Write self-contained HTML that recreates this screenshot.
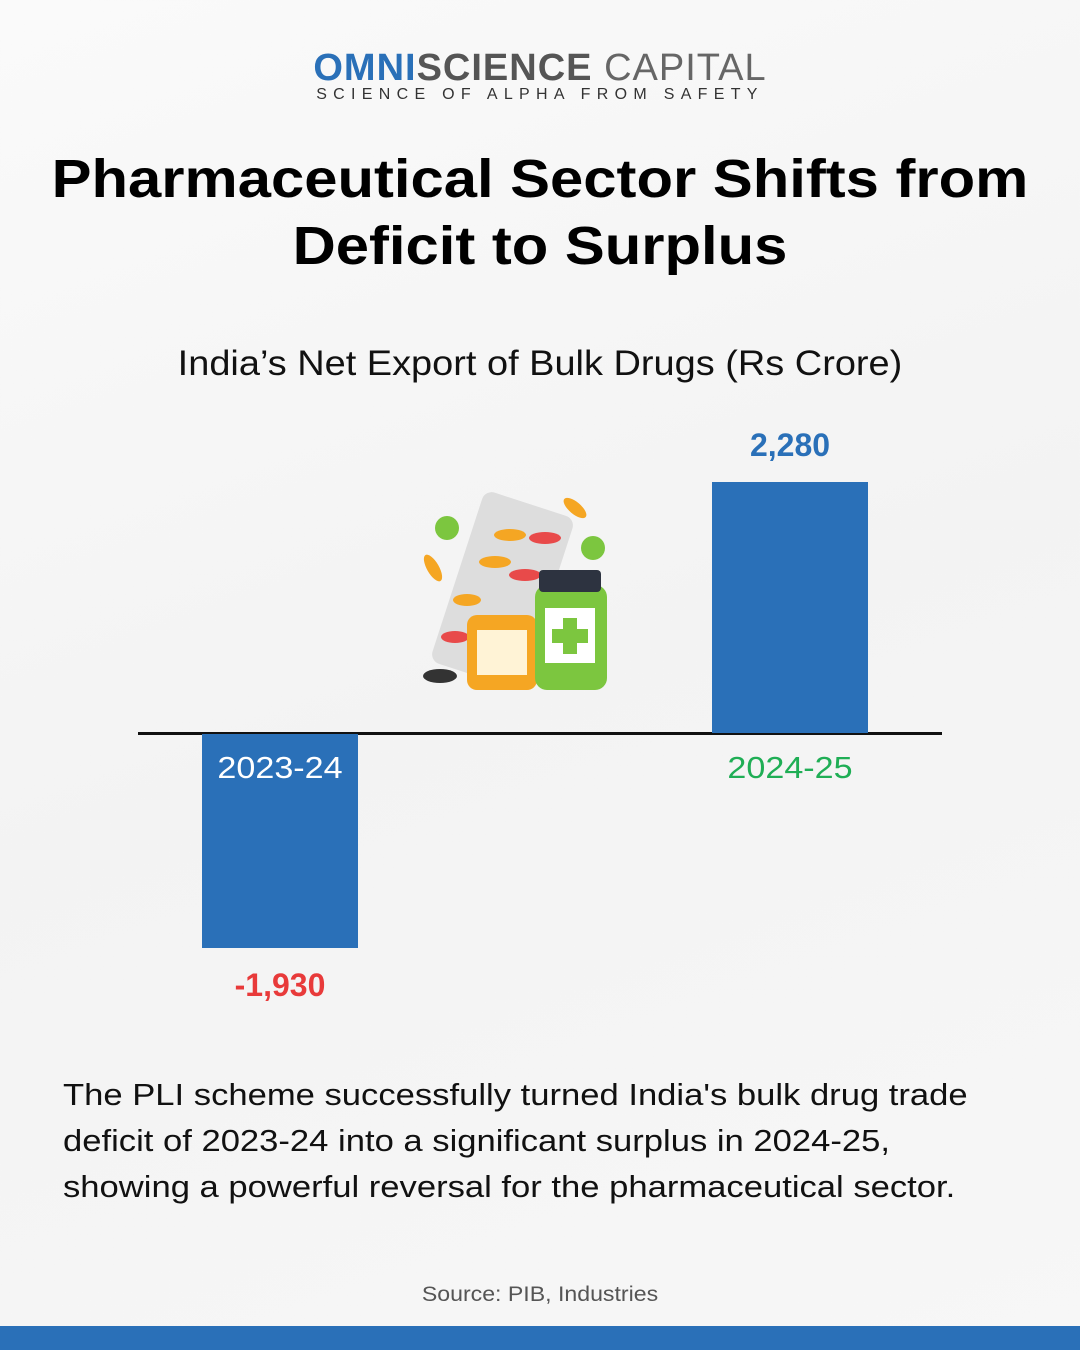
<!DOCTYPE html>
<html><head><meta charset="utf-8"><style>
*{margin:0;padding:0}
body{width:1080px;height:1350px;background:linear-gradient(160deg,#fafafa,#f3f3f3 50%,#f7f7f7);position:relative;overflow:hidden;font-family:"Liberation Sans",sans-serif;color:#111}
.a{position:absolute;white-space:nowrap}
</style></head><body>
<div class="a" style="left:0;width:1080px;top:45px;text-align:center;font-size:38px;font-weight:bold;letter-spacing:1px;line-height:46px">
<span style="color:#2a70b8">OMNI</span><span style="color:#555">SCIENCE</span> <span style="color:#666;font-weight:normal">CAPITAL</span></div>
<div class="a" style="left:0;width:1080px;top:86px;text-align:center;font-size:16px;letter-spacing:6.3px;color:#333">SCIENCE OF ALPHA FROM SAFETY</div>
<div class="a" style="left:0;width:1080px;top:146px;text-align:center;font-size:54px;font-weight:bold;line-height:67px;color:#000;transform:scaleX(1.107);transform-origin:540px 0">Pharmaceutical Sector Shifts from<br>Deficit to Surplus</div>
<div class="a" style="left:0;width:1080px;top:344px;text-align:center;font-size:35px;transform:scaleX(1.084);transform-origin:540px 0">India’s Net Export of Bulk Drugs (Rs Crore)</div>
<div class="a" style="left:138px;top:732px;width:804px;height:3px;background:#111"></div>
<div class="a" style="left:202px;top:734px;width:156px;height:214px;background:#2a70b8"></div>
<div class="a" style="left:712px;top:482px;width:156px;height:251px;background:#2a70b8"></div>
<div class="a" style="left:190px;width:180px;top:750px;text-align:center;font-size:31px;color:#fff;transform:scaleX(1.1)">2023-24</div>
<div class="a" style="left:700px;width:180px;top:750px;text-align:center;font-size:31px;color:#1fae55;transform:scaleX(1.1)">2024-25</div>
<div class="a" style="left:190px;width:180px;top:967px;text-align:center;font-size:32px;font-weight:bold;color:#e83a3a">-1,930</div>
<div class="a" style="left:700px;width:180px;top:427px;text-align:center;font-size:32px;font-weight:bold;color:#2a70b8">2,280</div>
<svg class="a" style="left:415px;top:490px" width="200" height="205" viewBox="0 0 200 205">
<rect x="40" y="10" width="95" height="180" rx="10" fill="#ddd" transform="rotate(18 88 100)"/>
<ellipse cx="95" cy="45" rx="16" ry="6" fill="#f5a623"/><ellipse cx="130" cy="48" rx="16" ry="6" fill="#e84a4a"/>
<ellipse cx="80" cy="72" rx="16" ry="6" fill="#f5a623"/><ellipse cx="110" cy="85" rx="16" ry="6" fill="#e84a4a"/>
<ellipse cx="52" cy="110" rx="14" ry="6" fill="#f5a623"/><ellipse cx="40" cy="147" rx="14" ry="6" fill="#e84a4a"/>
<circle cx="32" cy="38" r="12" fill="#7cc63f"/><circle cx="178" cy="58" r="12" fill="#7cc63f"/>
<ellipse cx="18" cy="78" rx="6" ry="15" fill="#f5a623" transform="rotate(-30 18 78)"/>
<ellipse cx="160" cy="18" rx="6" ry="14" fill="#f5a623" transform="rotate(-50 160 18)"/>
<ellipse cx="25" cy="186" rx="17" ry="7" fill="#333"/>
<rect x="52" y="125" width="70" height="75" rx="10" fill="#f5a623"/>
<rect x="62" y="140" width="50" height="45" fill="#fff3d6"/>
<rect x="120" y="95" width="72" height="105" rx="12" fill="#7cc63f"/>
<rect x="124" y="80" width="62" height="22" rx="4" fill="#2d3340"/>
<rect x="130" y="118" width="50" height="55" fill="#fff"/>
<rect x="148" y="128" width="14" height="36" fill="#7cc63f"/><rect x="137" y="139" width="36" height="14" fill="#7cc63f"/>
</svg>
<div class="a" style="left:63px;top:1072px;font-size:31px;line-height:46px;color:#111;transform:scaleX(1.116);transform-origin:0 0">The PLI scheme successfully turned India's bulk drug trade<br>deficit of 2023-24 into a significant surplus in 2024-25,<br>showing a powerful reversal for the pharmaceutical sector.</div>
<div class="a" style="left:0;width:1080px;top:1283px;text-align:center;font-size:21px;color:#555;transform:scaleX(1.1);transform-origin:540px 0">Source: PIB, Industries</div>
<div class="a" style="left:0;top:1326px;width:1080px;height:24px;background:#2a70b8"></div>
</body></html>
